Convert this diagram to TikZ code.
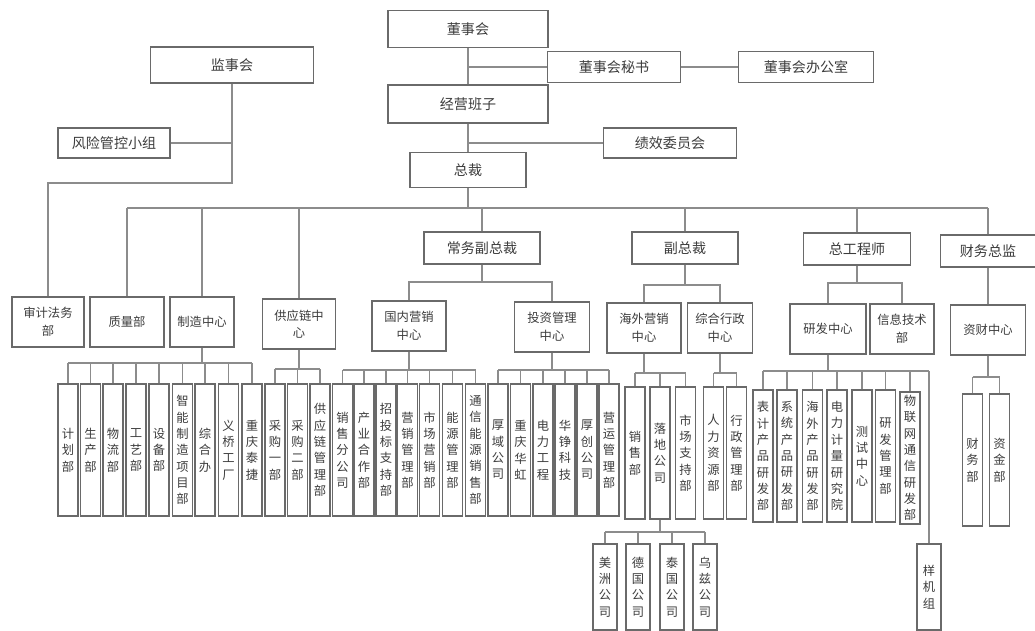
\documentclass[tikz,border=0pt]{standalone}
\usepackage{fontspec}
\newfontfamily\zhfont{Noto Sans CJK SC}
\XeTeXlinebreaklocale "zh"
\XeTeXlinebreakskip=0pt plus 1pt
\definecolor{edge}{HTML}{8C8C8C}
\definecolor{frame}{HTML}{6A6A6A}
\definecolor{ink}{HTML}{3C3C3C}
\tikzset{
  box/.style={draw=frame,line width=.6pt,fill=white,text=ink,inner sep=1pt,align=center,font=\zhfont\fontsize{8}{10}\selectfont},
  unit/.style={box,minimum height=1cm,font=\zhfont\fontsize{7}{10}\selectfont},
  leaf/.style={box,minimum width=.4cm,minimum height=2.64cm,text width=8pt,inner xsep=.5pt,font=\zhfont\fontsize{7}{9.3}\selectfont},
  link/.style={draw=edge,line width=.6pt}
}
\begin{document}
\begin{tikzpicture}[x=.02cm,y=-.02cm]
\useasboundingbox (0,0) rectangle (1035,630);
\node[box,minimum width=3.2cm,minimum height=.74cm] (dsh) at (468,29) {董事会};
\node[box,minimum width=2.66cm,minimum height=.62cm] (dms) at (614,67) {董事会秘书};
\node[box,minimum width=2.7cm,minimum height=.62cm] (dbg) at (806,67) {董事会办公室};
\node[box,minimum width=3.2cm,minimum height=.76cm] (jyb) at (468,104) {经营班子};
\node[box,minimum width=2.66cm,minimum height=.6cm] (jxw) at (670,143) {绩效委员会};
\node[box,minimum width=2.32cm,minimum height=.7cm] (zc) at (468,170) {总裁};
\node[box,minimum width=3.26cm,minimum height=.72cm] (jsh) at (232,65) {监事会};
\node[box,minimum width=2.24cm,minimum height=.6cm] (fxk) at (114,143) {风险管控小组};
\node[unit,minimum width=1.44cm] (sjf) at (48,322) {审计法务\\部};
\node[unit,minimum width=1.48cm] (zlb) at (127,322) {质量部};
\node[unit,minimum width=1.28cm] (zzzx) at (202,322) {制造中心};
\node[unit,minimum width=1.46cm] (gylzx) at (299,324) {供应链中\\心};
\node[box,minimum width=2.32cm,minimum height=.64cm] (cwfz) at (482,248) {常务副总裁};
\node[box,minimum width=2.12cm,minimum height=.64cm] (fzc) at (685,248) {副总裁};
\node[box,minimum width=2.14cm,minimum height=.64cm] (zgcs) at (857,249) {总工程师};
\node[box,minimum width=1.9cm,minimum height=.64cm] (cwzj) at (988,251) {财务总监};
\node[unit,minimum width=1.48cm] (gnyx) at (409,326) {国内营销\\中心};
\node[unit,minimum width=1.5cm] (tzgl) at (552,327) {投资管理\\中心};
\node[unit,minimum width=1.48cm] (hwyx) at (644,328) {海外营销\\中心};
\node[unit,minimum width=1.3cm] (zhxz) at (720,328) {综合行政\\中心};
\node[unit,minimum width=1.52cm] (yfzx) at (828,329) {研发中心};
\node[unit,minimum width=1.28cm] (xxjs) at (902,329) {信息技术\\部};
\node[unit,minimum width=1.5cm] (zczx) at (988,330) {资财中心};
\foreach \n/\x/\y/\t in {jhb/68/450/计划部,scb/90.5/450/生产部,wlb/113/450/物流部,gyb/136/450/工艺部,
  sbb/159/450/设备部,znzz/182.5/450/智能制造项目部,zhb/205/450/综合办,yqgc/228.5/450/义桥工厂,cqtj/252/450/重庆泰捷,
  cg1/275/450/采购一部,cg2/297.5/450/采购二部,gylgl/320/450/供应链管理部,
  xsfgs/342.5/450/销售分公司,cyhz/364/450/产业合作部,ztb/386/450/招投标支持部,yxgl/407.5/450/营销管理部,
  scyx/429.5/450/市场营销部,nygl/452.5/450/能源管理部,txny/475.5/450/通信能源销售部,
  hygs/498/450/厚域公司,cqhh/520.5/450/重庆华虹,dlgc/543/450/电力工程,hzkj/565/450/华铮科技,hcgs/587/450/厚创公司,yygl/609/450/营运管理部,
  xsb/635/453/销售部,ldgs/660/453/落地公司,sczc/685.5/453/市场支持部,rlzy/713.5/453/人力资源部,xzgl/736.5/453/行政管理部,
  bjcp/763/456/表计产品研发部,xtcp/787/456/系统产品研发部,hwcp/812.5/456/海外产品研发部,dljl/837/456/电力计量研究院,
  cszx/862/456/测试中心,yfgl/885.5/456/研发管理部,wlw/910/458/物联网通信研发部,
  cwb/972.5/460/财务部,zjb/999.5/460/资金部}
  \node[leaf] (\n) at (\x,\y) {\t};
\foreach \n/\x/\t in {mzgs/605/美洲公司,dggs/638/德国公司,tggs/672/泰国公司,wzgs/705/乌兹公司,yjz/929/样机组}
  \node[leaf,minimum width=.48cm,minimum height=1.72cm] (\n) at (\x,587) {\t};
% top
\draw[link] (dsh.south) -- (jyb.north);
\draw[link] (dms.west) -- (dms.west -| dsh.south);
\draw[link] (dms.east) -- (dbg.west);
\draw[link] (jyb.south) -- (zc.north);
\draw[link] (jxw.west) -- (jxw.west -| jyb.south);
\draw[link] (jsh.south) -- (jsh.south |- 0,183) -| (sjf.north);
\draw[link] (fxk.east) -- (fxk.east -| jsh.south);
% main bus
\draw[link] (zc.south) -- (zc.south |- 0,208);
\draw[link] (zlb.north |- 0,208) -- (cwzj.north |- 0,208);
\foreach \n in {zlb,zzzx,gylzx,cwfz,fzc,zgcs,cwzj} \draw[link] (\n.north) -- (\n.north |- 0,208);
\draw[link] (cwfz.south) -- (cwfz.south |- 0,282);
\draw[link] (gnyx.north) |- (tzgl.north |- 0,282) -- (tzgl.north);
\draw[link] (fzc.south) -- (fzc.south |- 0,285);
\draw[link] (hwyx.north) |- (zhxz.north |- 0,285) -- (zhxz.north);
\draw[link] (zgcs.south) -- (zgcs.south |- 0,283);
\draw[link] (yfzx.north) |- (xxjs.north |- 0,283) -- (xxjs.north);
\draw[link] (cwzj.south) -- (zczx.north);
% groups
\foreach \p/\a/\b/\l/\h in {zzzx/jhb/cqtj/{jhb,scb,wlb,gyb,sbb,znzz,zhb,yqgc,cqtj}/363,
  gylzx/cg1/gylgl/{cg1,cg2,gylgl}/369,
  gnyx/xsfgs/txny/{xsfgs,cyhz,ztb,yxgl,scyx,nygl,txny}/370,
  tzgl/hygs/yygl/{hygs,cqhh,dlgc,hzkj,hcgs,yygl}/370,
  hwyx/xsb/sczc/{xsb,ldgs,sczc}/373,
  zhxz/rlzy/xzgl/{rlzy,xzgl}/373,
  yfzx/bjcp/yjz/{bjcp,xtcp,hwcp,dljl,cszx,yfgl,wlw,yjz}/371,
  zczx/cwb/zjb/{cwb,zjb}/377,
  ldgs/mzgs/wzgs/{mzgs,dggs,tggs,wzgs}/532}{
  \draw[link] (\p.south) -- (\p.south |- 0,\h);
  \draw[link] (\a.north |- 0,\h) -- (\b.north |- 0,\h);
  \foreach \n in \l \draw[link] (\n.north) -- (\n.north |- 0,\h);
}
\end{tikzpicture}
\end{document}
